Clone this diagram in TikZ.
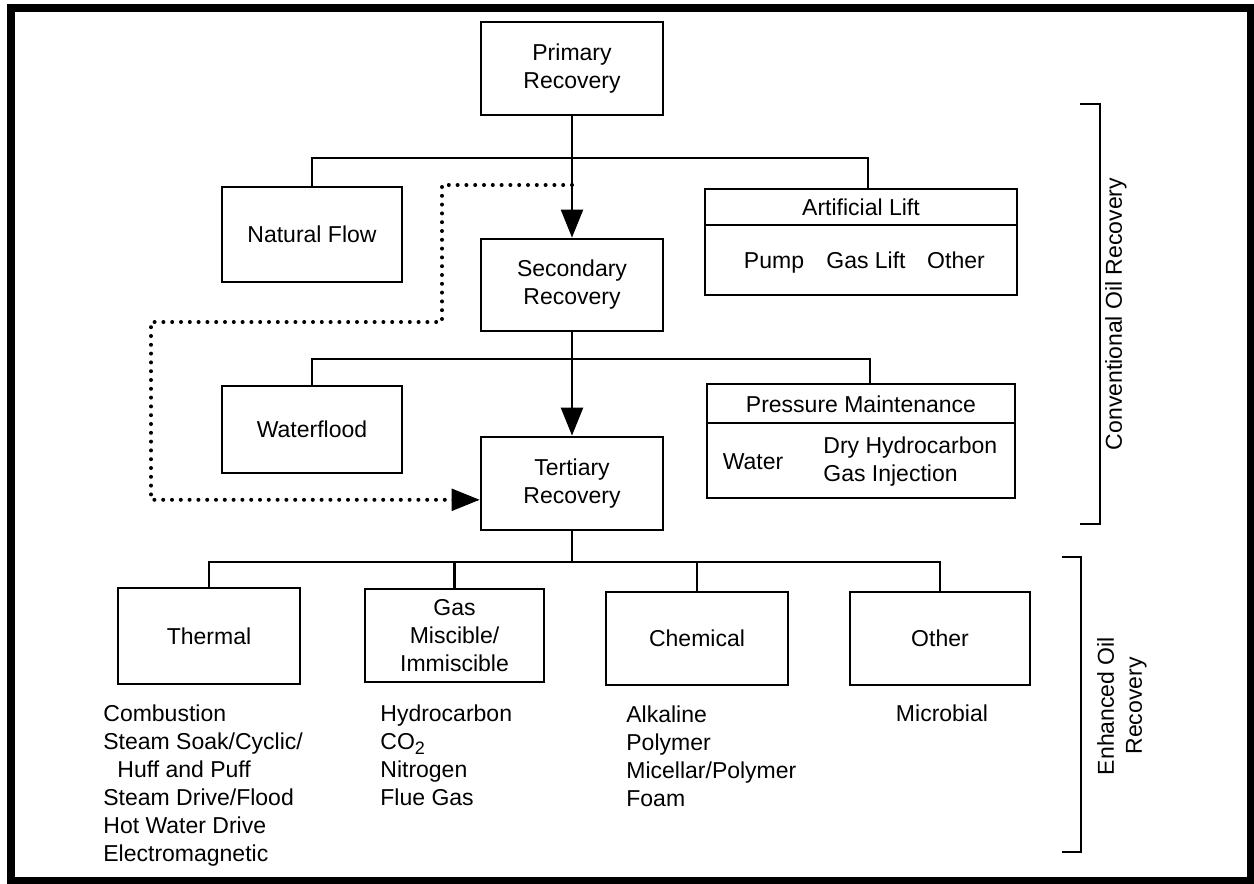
\documentclass[tikz,border=0pt]{standalone}
\usepackage{fontspec}
\setmainfont{Liberation Sans}
\usetikzlibrary{arrows.meta,calc}
\newcommand\mainfs{\fontsize{11.5}{14}\selectfont}
\newcommand\subtwo{\raisebox{-0.45ex}{\fontsize{9}{9}\selectfont 2}}
\begin{document}
\begin{tikzpicture}[x=0.5pt,y=-0.5pt,
  box/.style={draw,line width=1.4pt,inner sep=0pt,align=center,font=\mainfs},
  conn/.style={line width=1.2pt},
  arr/.style={conn,-{Triangle[length=14pt,width=11pt]}},
  dots/.style={line width=2pt,line cap=round,dash pattern=on 0pt off 4.4pt},
  txt/.style={inner sep=0pt,font=\mainfs},
  lst/.style={txt,align=left,anchor=north west}]
\useasboundingbox (0,0) rectangle (1254,884);
\fill[white] (0,0) rectangle (1254,884);
\draw[line width=4pt] (11,8) rectangle (1251,881);

% main column
\node[box,minimum width=91pt,minimum height=46.5pt] (prim) at (572,68.5) {Primary\\Recovery};
\node[box,minimum width=91pt,minimum height=46pt] (sec) at (572,285) {Secondary\\Recovery};
\node[box,minimum width=91pt,minimum height=46.5pt] (ter) at (572,483.5) {Tertiary\\Recovery};

% level 1
\node[box,minimum width=90pt,minimum height=47.5pt] (nat) at (312,234.5) {Natural Flow};
\node[box,minimum width=156pt,minimum height=53pt] (al) at (861,242) {};
\node[txt] (altitle) at (861,207) {Artificial Lift};
\draw[line width=1.4pt] (al.west |- 0,225) -- (al.east |- 0,225);
\node[txt,anchor=base] (pump) at (774,268) {Pump};
\node[txt,anchor=base] (gaslift) at (866,268) {Gas Lift};
\node[txt,anchor=base] (alother) at (956,268) {Other};

% level 2
\node[box,minimum width=90pt,minimum height=43.5pt] (wat) at (312,429.5) {Waterflood};
\node[box,minimum width=154pt,minimum height=57pt] (pm) at (861,441) {};
\node[txt] (pmtitle) at (861,404) {Pressure Maintenance};
\draw[line width=1.4pt] (pm.west |- 0,423) -- (pm.east |- 0,423);
\node[txt] (water) at (753,462) {Water};
\node[txt,align=left,anchor=west] (dry) at (823,462) {Dry Hydrocarbon\\Gas Injection};

% level 3
\node[box,minimum width=91pt,minimum height=48pt] (th) at (209,636) {Thermal};
\node[box,minimum width=89.5pt,minimum height=46.5pt] (gas) at (454.5,635.5) {Gas\\Miscible/\\Immiscible};
\node[box,minimum width=91pt,minimum height=46.5pt] (chem) at (697,638.5) {Chemical};
\node[box,minimum width=90pt,minimum height=46.5pt] (oth) at (940,638.5) {Other};

% lists
\node[lst] (thl) at (103,704) {Combustion\\Steam Soak/Cyclic/\\\hspace*{7pt}Huff and Puff\\Steam Drive/Flood\\Hot Water Drive\\Electromagnetic};
\node[lst] (gasl) at (380,704) {Hydrocarbon\\CO\subtwo\\Nitrogen\\Flue Gas};
\node[lst] (chl) at (626,705) {Alkaline\\Polymer\\Micellar/Polymer\\Foam};
\node[txt] (mic) at (942,713) {Microbial};

% connectors
\coordinate (b1) at (868,158);
\coordinate (b2) at (870,359);
\coordinate (b3) at (572,562);
\draw[conn] (nat.north) |- (b1) -- (b1 |- al.north);
\draw[conn] (wat.north) |- (b2) -- (b2 |- pm.north);
\draw[conn] (ter.south) -- (b3);
\draw[conn] (th.north) |- (oth.north |- b3) -- (oth.north);
\draw[conn] (gas.north) -- (gas.north |- b3);
\draw[conn] (chem.north) -- (chem.north |- b3);
\draw[arr] (prim) -- (sec);
\draw[arr] (sec) -- (ter);

% dotted bypass
\coordinate (d1) at (442,185);
\coordinate (d2) at (442,322);
\coordinate (d3) at (151,322);
\draw[dots] (prim.south |- d1) -- (d1) -- (d2) -- (d3) |- (ter.190);
\draw[conn,-{Triangle[length=14pt,width=11pt]}] ($(ter.190)+(-2,0)$) -- (ter.190);

% brackets
\draw[conn] (1080,104) -- (1100,104) -- (1100,524) -- (1080,524);
\node[txt,rotate=90] (conv) at (1116,314) {Conventional Oil Recovery};
\draw[conn] (1062,557) -- (1081,557) -- (1081,852) -- (1062,852);
\node[txt,rotate=90,align=center] (enh) at (1122,706) {Enhanced Oil\\Recovery};
\end{tikzpicture}
\end{document}
